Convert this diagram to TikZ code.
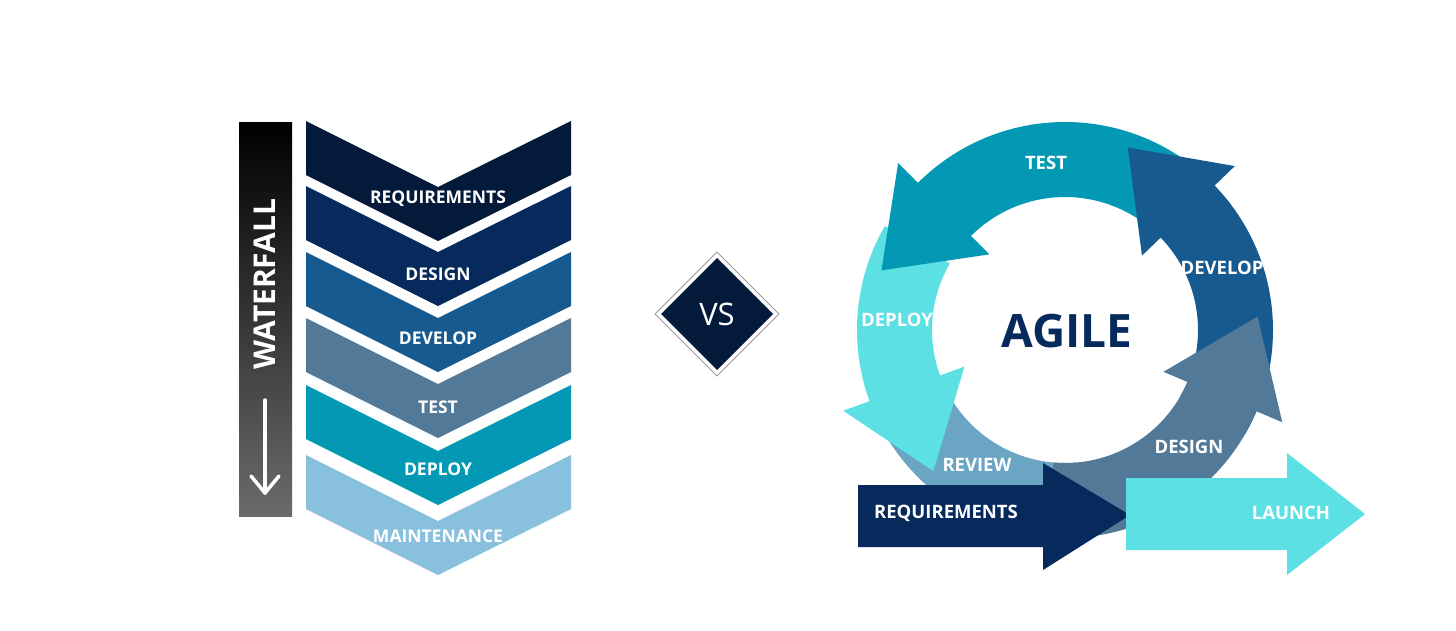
\documentclass[tikz,border=0pt]{standalone}
\usepackage{fontspec}
\setmainfont{Open Sans}
\usetikzlibrary{calc}
\definecolor{c1}{HTML}{031A3B}
\definecolor{c2}{HTML}{062A5C}
\definecolor{c3}{HTML}{175A8F}
\definecolor{c4}{HTML}{527A98}
\definecolor{c5}{HTML}{0399B4}
\definecolor{c6}{HTML}{88C0DE}
\definecolor{cy}{HTML}{5CE0E4}
\definecolor{rv}{HTML}{6AA6C4}
\newcommand\chev[4]{\fill[#1] (306,#2) -- (438,#2+66) -- (571,#2) -- (571,#2+54) -- (438,#2+120) -- (306,#2+54) -- cycle;
  \node[wlab] (w#3) at (438,#4) {#3};}
\newcommand\agarr[3]{\fill[#1] ($(C)+({-(#2)}:208)$) arc[start angle={-(#2)},end angle={-(#3)},radius=208]
  -- ($(C)+({-(#3)}:236)$) -- ($(C)+({-(#3)-27}:193)$) -- ($(C)+({-(#3)}:107)$)
  -- ($(C)+({-(#3)}:133)$) arc[start angle={-(#3)},end angle={-(#2)},radius=133] -- cycle;}
\begin{document}
\begin{tikzpicture}[x=1pt,y=-1pt,
  wlab/.style={text=white,font=\bfseries\fontsize{17.5}{18}\selectfont,inner sep=0pt},
  alab/.style={text=white,font=\bfseries\fontsize{18.5}{19}\selectfont,inner sep=0pt}]
\useasboundingbox[fill=white] (0,0) rectangle (1456,630);
% waterfall bar
\shade[top color=black,bottom color=black!58] (239,122) rectangle (292,516);
\node[text=white,font=\bfseries\fontsize{30}{30}\selectfont,rotate=90,inner sep=0pt] (wf) at (265,284) {WATERFALL};
\coordinate (wa1) at (265,400); \coordinate (wa2) at (265,493);
\draw[white,line width=3.5pt,line cap=round] (wa1) -- (wa2);
\draw[white,line width=3.5pt,line cap=round,line join=round] (251,476) -- (wa2) -- (279,476);
% chevrons
\chev{c1}{121}{REQUIREMENTS}{199}
\chev{c2}{186}{DESIGN}{274}
\chev{c3}{252}{DEVELOP}{338}
\chev{c4}{318}{TEST}{407}
\chev{c5}{385}{DEPLOY}{469}
\chev{c6}{455}{MAINTENANCE}{536}
% VS
\draw[gray!80,line width=0.8pt] (717,252) -- (779,314) -- (717,376) -- (655,314) -- cycle;
\fill[c1] (717,258) -- (773,314) -- (717,370) -- (661,314) -- cycle;
\node[text=white,font=\fontsize{31}{31}\selectfont] (vs) at (717,314) {VS};
% agile
\coordinate (C) at (1065,330);
\fill[rv] ($(C)+(-205:208)$) arc[start angle=-205,end angle=-275,radius=208] -- ($(C)+(-275:133)$) arc[start angle=-275,end angle=-205,radius=133] -- cycle;
\agarr{cy}{150}{200}
\agarr{c5}{55}{135}
\agarr{c3}{-30}{44}
\agarr{c4}{-95}{-23}
% requirements arrow
\fill[c2] (858,485) -- (1043,485) -- (1043,463) -- (1130,515) -- (1043,570) -- (1043,547) -- (858,547) -- cycle;
% launch arrow
\fill[cy] (1126,478) -- (1287,478) -- (1287,453) -- (1365,514) -- (1287,575) -- (1287,550) -- (1126,550) -- cycle;
\node[alab] (atest) at (1046,163) {TEST};
\node[alab] (adev) at (1222,268) {DEVELOP};
\node[alab] (adep) at (897,320) {DEPLOY};
\node[alab] (arev) at (977,465) {REVIEW};
\node[alab] (ades) at (1189,447) {DESIGN};
\node[alab] (areq) at (946,513) {REQUIREMENTS};
\node[alab] (alau) at (1291,513) {LAUNCH};
\node[text=c2,font=\bfseries\fontsize{46}{46}\selectfont,inner sep=0pt] (agile) at (1067,331) {AGILE};
\end{tikzpicture}
\end{document}
